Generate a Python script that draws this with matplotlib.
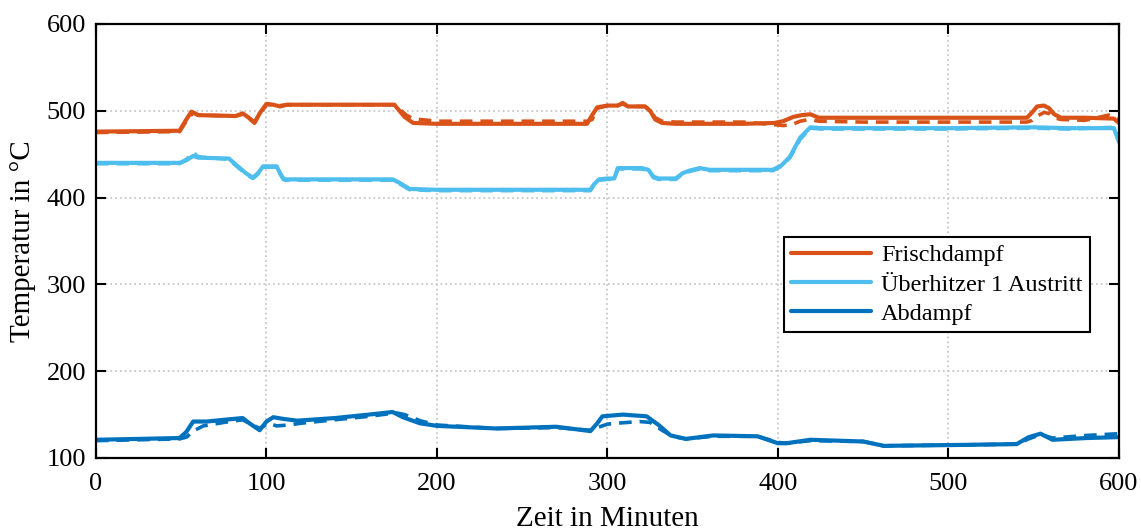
import numpy as np
import matplotlib
matplotlib.use("Agg")
import matplotlib.pyplot as plt

# Frischdampf (solid = measured, dashed = simulated)
frisch_t = [0, 49, 53, 56, 60, 82, 86, 89, 93, 96, 100, 104, 108, 112, 175, 178, 181, 186, 200, 250,
            288, 291, 294, 300, 306, 309, 312, 322, 325, 328, 332, 340, 380, 398, 403, 409, 414, 419,
            424, 450, 500, 546, 549, 552, 556, 559, 562, 566, 580, 597, 600]
frisch_v = [476, 477, 490, 499, 495, 494, 497, 493, 486, 497, 508, 507, 505, 507, 507, 500, 493, 486, 485, 485,
            485, 495, 504, 506, 506, 509, 505, 505, 500, 490, 486, 485, 485, 486, 488, 493, 495, 496,
            492, 492, 492, 492, 498, 505, 506, 503, 496, 492, 492, 491, 486]
frisch_sim_t = [0, 49, 53, 57, 60, 82, 86, 89, 93, 96, 100, 104, 108, 112, 175, 178, 182, 186, 190, 200,
                250, 288, 291, 294, 300, 306, 309, 312, 322, 325, 328, 332, 340, 380, 398, 403, 408, 413,
                418, 424, 450, 500, 546, 549, 552, 556, 559, 562, 566, 580, 594, 600]
frisch_sim_v = [475, 476, 488, 498, 495, 494, 496, 493, 487, 496, 507, 507, 506, 507, 507, 502, 495, 491, 490, 488,
                488, 488, 490, 503, 506, 506, 508, 505, 505, 501, 492, 488, 487, 487, 484, 483, 484, 488,
                490, 488, 487, 487, 487, 489, 494, 498, 497, 492, 490, 489, 495, 490]

# Überhitzer 1 Austritt
ueh_t = [0, 49, 53, 57, 60, 78, 82, 88, 92, 95, 98, 106, 108, 110, 174, 178, 184, 200, 250, 290, 292,
         295, 300, 304, 306, 320, 324, 327, 330, 340, 344, 348, 354, 360, 390, 397, 402, 407, 413, 419,
         425, 450, 500, 550, 570, 597, 600]
ueh_v = [440, 440, 443, 448, 446, 445, 438, 428, 423, 428, 436, 436, 428, 421, 421, 417, 410, 409, 409, 409, 415,
         421, 422, 422, 434, 434, 432, 424, 422, 422, 428, 431, 434, 432, 432, 432, 437, 447, 469, 481,
         480, 480, 480, 481, 480, 480, 464]
ueh_sim_t = [0, 49, 53, 57, 60, 78, 82, 88, 92, 95, 98, 106, 108, 111, 174, 178, 184, 200, 250, 290, 292,
             295, 300, 304, 306, 320, 324, 327, 330, 340, 344, 348, 354, 360, 390, 397, 402, 407, 413, 419,
             425, 450, 500, 550, 570, 597, 600]
ueh_sim_v = [439, 439, 444, 452, 447, 444, 437, 427, 422, 427, 435, 435, 427, 420, 420, 416, 409, 408, 408, 408, 414,
             420, 421, 421, 433, 433, 431, 423, 421, 421, 427, 430, 433, 431, 431, 431, 436, 446, 467, 480,
             479, 479, 479, 480, 479, 481, 466]

# Abdampf
abd_t = [0, 25, 49, 53, 57, 65, 75, 86, 90, 96, 100, 104, 110, 118, 140, 160, 174, 180, 190, 200, 235,
         270, 290, 294, 297, 309, 323, 330, 337, 346, 362, 388, 400, 405, 419, 450, 462, 505, 540, 547,
         554, 561, 581, 599]
abd_v = [121, 122, 123, 130, 142, 142, 144, 146, 140, 132, 142, 147, 145, 143, 146, 150, 153, 147, 140, 137, 134,
         136, 131, 140, 148, 150, 148, 138, 126, 122, 126, 125, 117, 117, 121, 119, 114, 115, 116, 124,
         128, 121, 123, 124]
abd_sim_t = [0, 25, 49, 53, 58, 63, 75, 86, 90, 96, 101, 106, 113, 120, 140, 160, 176, 181, 190, 200, 235,
             270, 290, 294, 300, 305, 319, 325, 332, 338, 346, 362, 388, 400, 405, 419, 450, 462, 505, 540,
             547, 554, 561, 581, 600]
abd_sim_v = [120, 121, 122, 124, 132, 137, 141, 144, 140, 134, 140, 137, 138, 140, 144, 148, 152, 150, 143, 138, 134,
             135, 132, 135, 139, 140, 142, 141, 132, 125, 122, 125, 125, 118, 117, 120, 119, 114, 115, 116,
             122, 127, 123, 126, 128]

labels = ["Frischdampf", "Überhitzer 1 Austritt", "Abdampf"]
colors = ["#D95319", "#4DBEEE", "#0072BD"]

plt.rcParams['font.family'] = ['Liberation Serif', 'DejaVu Serif']

fig = plt.figure(figsize=(11.41, 5.32), dpi=100)
ax = fig.add_axes([0.0841, 0.1391, 0.8966, 0.8158])

measured = [(frisch_t, frisch_v), (ueh_t, ueh_v), (abd_t, abd_v)]
simulated = [(frisch_sim_t, frisch_sim_v), (ueh_sim_t, ueh_sim_v), (abd_sim_t, abd_sim_v)]

for (t, v), (ts, vs), c, lab in zip(measured, simulated, colors, labels):
    ax.plot(ts, vs, color=c, lw=2.6, ls=(0, (3.5, 2.2)))
    ax.plot(t, v, color=c, lw=3.0, label=lab, solid_capstyle="round")

ax.set_xlim(0, 600)
ax.set_ylim(100, 600)
ax.set_xticks(np.arange(0, 601, 100))
ax.set_yticks(np.arange(100, 601, 100))
ax.grid(True, color="#c8c8c8", ls=":", lw=1.3)
ax.tick_params(direction="in", top=True, right=True, length=7, width=1.5, labelsize=19)
ax.tick_params(axis="x", pad=11)
ax.tick_params(axis="y", pad=7)
for s in ax.spines.values():
    s.set_linewidth(1.6)

ax.set_xlabel("Zeit in Minuten", fontsize=21, labelpad=8)
ax.set_ylabel("Temperatur in °C", fontsize=21, labelpad=8)

leg = ax.legend(loc="upper left", bbox_to_anchor=(0.6725, 0.509), borderaxespad=0,
                fontsize=17.5, fancybox=False, framealpha=1, edgecolor="black",
                handlelength=3.3, labelspacing=0.3, borderpad=0.3, handletextpad=0.4)
leg.get_frame().set_linewidth(1.5)

fig.savefig("out.png", dpi=100)
